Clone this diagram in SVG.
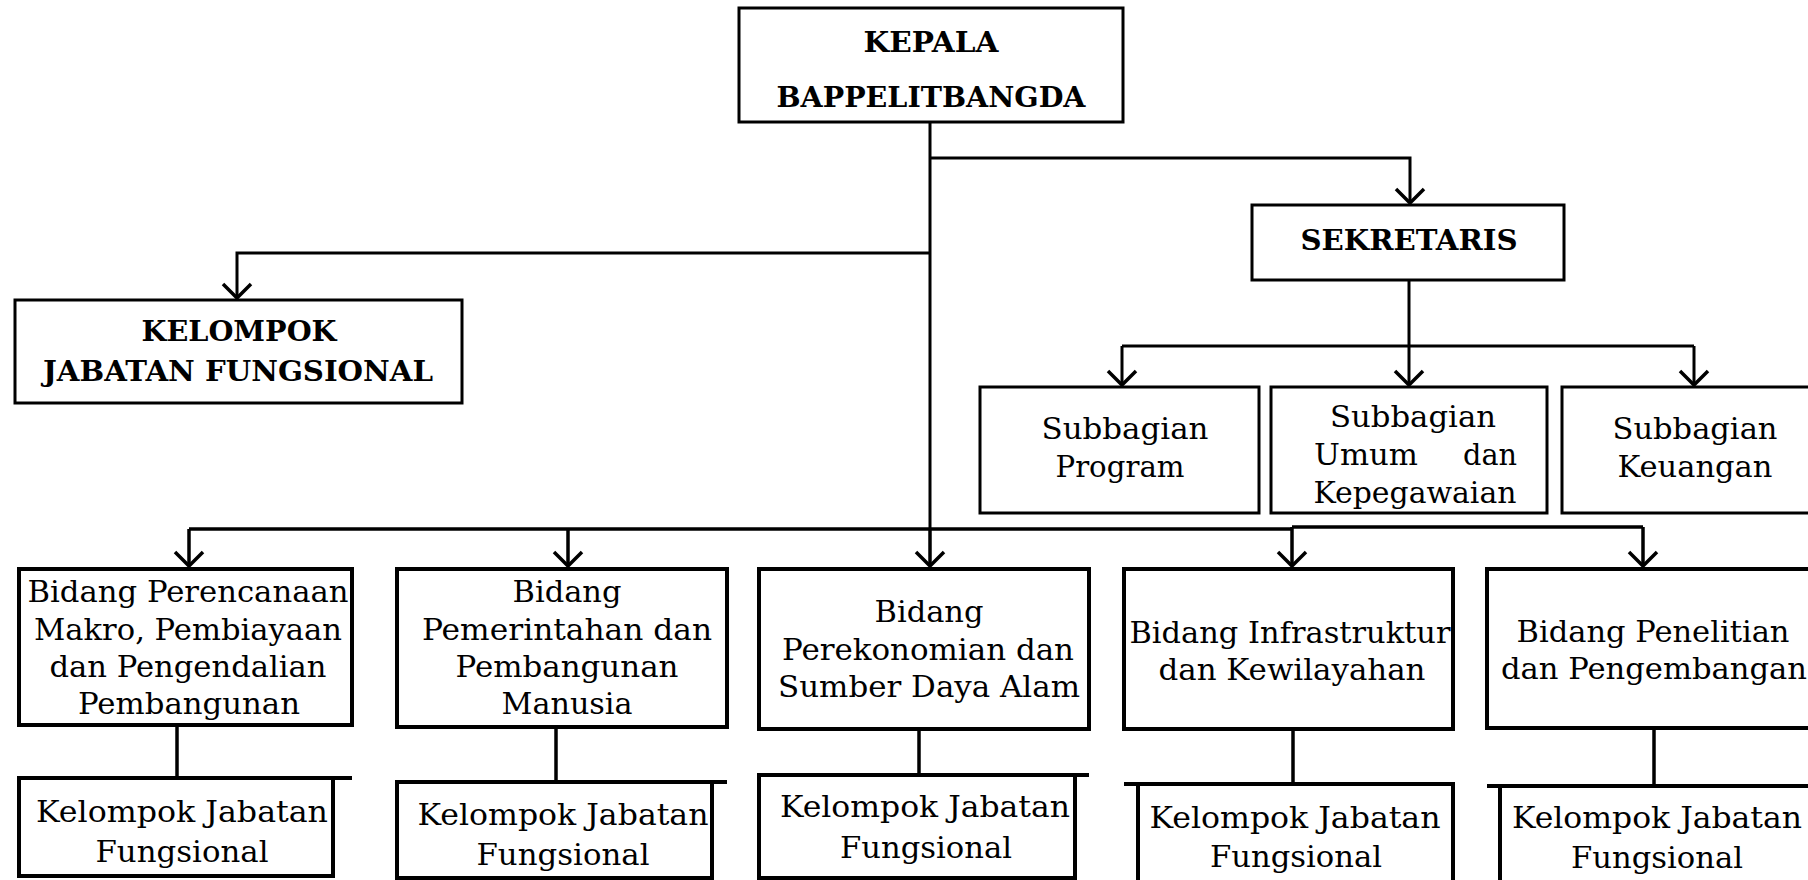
<svg xmlns="http://www.w3.org/2000/svg" width="1808" height="880" viewBox="0 0 1808 880">
<style>
.box{fill:#fff;stroke:#000;stroke-width:3}
.bx{fill:#fff;stroke:#000;stroke-width:4}
.ln{fill:none;stroke:#000;stroke-width:4}
.c{fill:none;stroke:#000;stroke-width:3}
.c4{fill:none;stroke:#000;stroke-width:3.5}
.h{font-family:"DejaVu Serif","Liberation Serif",serif;font-weight:bold;font-size:28px;text-anchor:middle;fill:#000}
.t{font-family:"DejaVu Serif","Liberation Serif",serif;font-size:30px;text-anchor:middle;fill:#000}
</style>
<defs>
<marker id="arr" viewBox="-16 -16 20 32" markerWidth="20" markerHeight="32" refX="0" refY="0" orient="auto" markerUnits="userSpaceOnUse" overflow="visible">
<path d="M-14,-14 L0,0 L-14,14" fill="none" stroke="#000" stroke-width="3.5"/>
</marker>
</defs>
<rect width="1808" height="880" fill="#fff"/>

<g id="connectors">
<path class="c" d="M930,122 V529"/>
<path class="c4" d="M930,529 V566" marker-end="url(#arr)"/>
<path class="c" d="M930,158 H1410 V203" marker-end="url(#arr)"/>
<path class="c" d="M930,253 H237 V298" marker-end="url(#arr)"/>
<path class="c" d="M1409,280 V385" marker-end="url(#arr)"/>
<path class="c" d="M1122,346 H1694"/>
<path class="c" d="M1122,346 V385" marker-end="url(#arr)"/>
<path class="c" d="M1694,346 V385" marker-end="url(#arr)"/>
<path class="c4" d="M189,529 H1292"/>
<path class="c4" d="M1292,527 H1643"/>
<path class="c4" d="M189,529 V566" marker-end="url(#arr)"/>
<path class="c4" d="M568,529 V566" marker-end="url(#arr)"/>
<path class="c4" d="M1292,527 V566" marker-end="url(#arr)"/>
<path class="c4" d="M1643,527 V566" marker-end="url(#arr)"/>
<path class="c4" d="M177,725 V778"/>
<path class="c4" d="M556,727 V782"/>
<path class="c4" d="M919,729 V775"/>
<path class="c4" d="M1293,729 V784"/>
<path class="c4" d="M1654,728 V786"/>
</g>

<g id="kepala">
<rect class="box" x="739" y="8" width="384" height="114"/>
<text class="h" x="931" y="52" textLength="135" lengthAdjust="spacingAndGlyphs">KEPALA</text>
<text class="h" x="931" y="107" textLength="309" lengthAdjust="spacingAndGlyphs">BAPPELITBANGDA</text>
</g>

<g id="kjf-utama">
<rect class="box" x="15" y="300" width="447" height="103"/>
<text class="h" x="239" y="341" font-size="27" textLength="195" lengthAdjust="spacingAndGlyphs">KELOMPOK</text>
<text class="h" x="238" y="381" font-size="27" textLength="390" lengthAdjust="spacingAndGlyphs">JABATAN FUNGSIONAL</text>
</g>

<g id="sekretaris">
<rect class="box" x="1252" y="205" width="312" height="75"/>
<text class="h" x="1409" y="250" textLength="217" lengthAdjust="spacingAndGlyphs">SEKRETARIS</text>
</g>

<g id="subbagian-program">
<rect class="box" x="980" y="387" width="279" height="126"/>
<text class="t" x="1125" y="439" textLength="167" lengthAdjust="spacingAndGlyphs">Subbagian</text>
<text class="t" x="1120" y="477" textLength="129" lengthAdjust="spacingAndGlyphs">Program</text>
</g>

<g id="subbagian-umum">
<rect class="box" x="1271" y="387" width="276" height="126"/>
<text class="t" x="1413" y="427" textLength="166" lengthAdjust="spacingAndGlyphs">Subbagian</text>
<text class="t" y="465"><tspan x="1314" text-anchor="start" textLength="104" lengthAdjust="spacingAndGlyphs">Umum</tspan><tspan x="1517" text-anchor="end" textLength="54" lengthAdjust="spacingAndGlyphs">dan</tspan></text>
<text class="t" x="1415" y="503" textLength="203" lengthAdjust="spacingAndGlyphs">Kepegawaian</text>
</g>

<g id="subbagian-keuangan">
<rect class="box" x="1562" y="387" width="256" height="126"/>
<text class="t" x="1695" y="439" textLength="165" lengthAdjust="spacingAndGlyphs">Subbagian</text>
<text class="t" x="1695" y="477" textLength="155" lengthAdjust="spacingAndGlyphs">Keuangan</text>
</g>

<g id="bidang-perencanaan">
<rect class="bx" x="19" y="569" width="333" height="156"/>
<text class="t" x="188" y="602" textLength="321" lengthAdjust="spacingAndGlyphs">Bidang Perencanaan</text>
<text class="t" x="188" y="640" textLength="308" lengthAdjust="spacingAndGlyphs">Makro, Pembiayaan</text>
<text class="t" x="188" y="677" textLength="277" lengthAdjust="spacingAndGlyphs">dan Pengendalian</text>
<text class="t" x="189" y="714" textLength="222" lengthAdjust="spacingAndGlyphs">Pembangunan</text>
</g>

<g id="bidang-pemerintahan">
<rect class="bx" x="397" y="569" width="330" height="158"/>
<text class="t" x="567" y="602" textLength="109" lengthAdjust="spacingAndGlyphs">Bidang</text>
<text class="t" x="567" y="640" textLength="290" lengthAdjust="spacingAndGlyphs">Pemerintahan dan</text>
<text class="t" x="567" y="677" textLength="223" lengthAdjust="spacingAndGlyphs">Pembangunan</text>
<text class="t" x="567" y="714" textLength="131" lengthAdjust="spacingAndGlyphs">Manusia</text>
</g>

<g id="bidang-perekonomian">
<rect class="bx" x="759" y="569" width="330" height="160"/>
<text class="t" x="929" y="622" textLength="109" lengthAdjust="spacingAndGlyphs">Bidang</text>
<text class="t" x="928" y="660" textLength="292" lengthAdjust="spacingAndGlyphs">Perekonomian dan</text>
<text class="t" x="929" y="697" textLength="302" lengthAdjust="spacingAndGlyphs">Sumber Daya Alam</text>
</g>

<g id="bidang-infrastruktur">
<rect class="bx" x="1124" y="569" width="329" height="160"/>
<text class="t" x="1290" y="643" textLength="321" lengthAdjust="spacingAndGlyphs">Bidang Infrastruktur</text>
<text class="t" x="1292" y="680" textLength="267" lengthAdjust="spacingAndGlyphs">dan Kewilayahan</text>
</g>

<g id="bidang-penelitian">
<rect class="bx" x="1487" y="569" width="330" height="159"/>
<text class="t" x="1653" y="642" textLength="273" lengthAdjust="spacingAndGlyphs">Bidang Penelitian</text>
<text class="t" x="1654" y="679" textLength="306" lengthAdjust="spacingAndGlyphs">dan Pengembangan</text>
</g>

<g id="kjf-perencanaan">
<rect class="bx" x="19" y="778" width="314" height="98"/>
<path class="ln" d="M19,778 H352"/>
<text class="t" x="182" y="822" textLength="292" lengthAdjust="spacingAndGlyphs">Kelompok Jabatan</text>
<text class="t" x="182" y="862" textLength="173" lengthAdjust="spacingAndGlyphs">Fungsional</text>
</g>

<g id="kjf-pemerintahan">
<rect class="bx" x="397" y="782" width="315" height="96"/>
<path class="ln" d="M397,782 H727"/>
<text class="t" x="563" y="825" textLength="291" lengthAdjust="spacingAndGlyphs">Kelompok Jabatan</text>
<text class="t" x="563" y="865" textLength="173" lengthAdjust="spacingAndGlyphs">Fungsional</text>
</g>

<g id="kjf-perekonomian">
<rect class="bx" x="759" y="775" width="316" height="103"/>
<path class="ln" d="M759,775 H1089"/>
<text class="t" x="925" y="817" textLength="290" lengthAdjust="spacingAndGlyphs">Kelompok Jabatan</text>
<text class="t" x="926" y="858" textLength="172" lengthAdjust="spacingAndGlyphs">Fungsional</text>
</g>

<g id="kjf-infrastruktur">
<rect class="bx" x="1138" y="784" width="315" height="100"/>
<path class="ln" d="M1124,784 H1453"/>
<text class="t" x="1295" y="828" textLength="291" lengthAdjust="spacingAndGlyphs">Kelompok Jabatan</text>
<text class="t" x="1296" y="867" textLength="172" lengthAdjust="spacingAndGlyphs">Fungsional</text>
</g>

<g id="kjf-penelitian">
<rect class="bx" x="1500" y="786" width="320" height="100"/>
<path class="ln" d="M1487,786 H1812"/>
<text class="t" x="1657" y="828" textLength="290" lengthAdjust="spacingAndGlyphs">Kelompok Jabatan</text>
<text class="t" x="1657" y="868" textLength="172" lengthAdjust="spacingAndGlyphs">Fungsional</text>
</g>
</svg>
